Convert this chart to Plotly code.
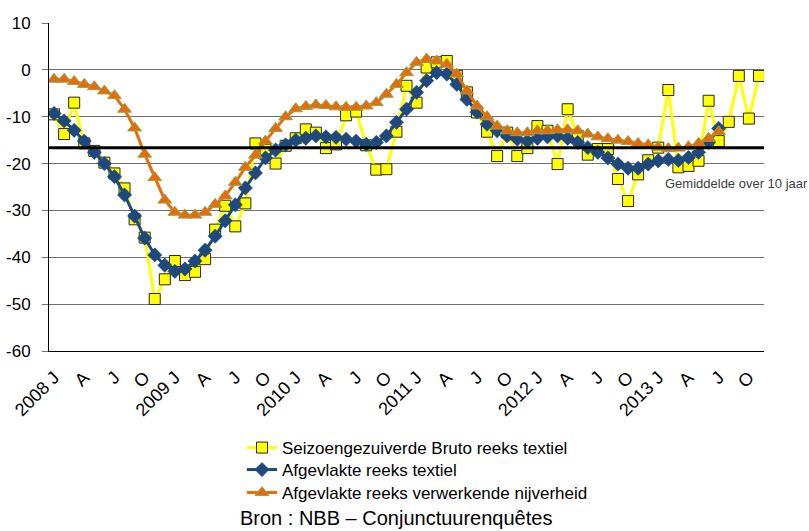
import plotly.graph_objects as go

months = ["J", "F", "M", "A", "M", "J", "J", "A", "S", "O", "N", "D"]
years = [2008, 2009, 2010, 2011, 2012, 2013]
categories = [f"{y} {m}" for y in years for m in months][:71]

tick_labels = ["2008 J", "A", "J", "O", "2009 J", "A", "J", "O", "2010 J", "A", "J", "O",
               "2011 J", "A", "J", "O", "2012 J", "A", "J", "O", "2013 J", "A", "J", "O"]

bruto_textiel = [
    -9.5, -13.7, -7.0, -15.7, -17.3, -19.8, -22.1, -25.3, -31.9, -35.8,
    -48.9, -44.7, -40.8, -43.8, -43.1, -40.4, -34.1, -29.0, -33.4, -28.5,
    -15.7, -17.1, -20.0, -16.2, -14.6, -12.7, -13.4, -16.7, -15.9, -9.7,
    -8.9, -16.1, -21.3, -21.2, -13.2, -3.4, -7.0, 0.5, 1.6, 1.9,
    -1.3, -4.8, -9.1, -13.2, -18.4, -13.4, -18.4, -16.7, -12.0, -13.0,
    -20.1, -8.4, -14.1, -18.1, -16.9, -16.9, -23.3, -28.0, -22.3, -19.3,
    -16.6, -4.3, -20.8, -20.5, -19.4, -6.6, -15.2, -11.1, -1.3, -10.4,
    -1.3,
]

afgevlakt_textiel = [
    -9.3, -10.9, -12.9, -15.2, -17.6, -20.0, -22.8, -26.7, -31.2, -35.9,
    -39.5, -41.7, -43.0, -42.5, -40.8, -38.5, -35.5, -32.2, -28.8, -25.2,
    -22.0, -18.8, -17.1, -16.0, -15.0, -14.6, -14.1, -14.3, -14.4, -14.8,
    -15.2, -15.9, -15.5, -14.1, -11.2, -8.4, -4.8, -2.3, -0.6, -0.9,
    -3.1, -6.3, -9.0, -11.6, -13.0, -14.1, -14.8, -15.2, -14.6, -14.3,
    -14.1, -14.6, -15.5, -16.6, -17.6, -18.8, -20.1, -21.0, -21.0, -20.1,
    -19.4, -19.1, -19.3, -18.7, -17.6, -15.5, -12.5,
]

afgevlakt_industrie = [
    -2.0, -2.0, -2.5, -3.1, -3.6, -4.5, -5.5, -8.4, -12.4, -18.0,
    -23.0, -27.8, -30.4, -31.0, -31.0, -30.4, -28.7, -26.9, -24.0, -20.8,
    -18.2, -15.2, -12.5, -10.0, -8.3, -7.8, -7.5, -7.6, -7.9, -8.0,
    -8.0, -7.7, -7.0, -5.2, -3.1, -0.6, 1.6, 2.3, 1.9, 1.2,
    -0.9, -4.5, -7.7, -10.0, -12.0, -13.0, -13.4, -13.4, -13.0, -13.0,
    -12.8, -12.8, -13.0, -13.7, -14.3, -14.7, -15.0, -15.3, -15.7, -16.0,
    -16.5, -16.8, -16.7, -16.4, -15.7, -14.6, -13.2,
]

gemiddelde_10_jaar = -16.6

y_ticks = [10, 0, -10, -20, -30, -40, -50, -60]
y_tick_text = ["10", "0", "-10", "-20", "-30", "-40", "-50", "-60"]

FONT = "Liberation Sans, Arial, sans-serif"

W, H = 809, 531
ml, mr, mt, mb = 49, 45, 23, 180
pw, ph = W - ml - mr, H - mt - mb


def px_to_paper_x(px):
    return (px - ml) / pw


def py_to_paper_y(py):
    return (H - mb - py) / ph


x_all = list(range(len(categories)))

fig = go.Figure()

fig.add_trace(go.Scatter(
    x=x_all[:len(bruto_textiel)], y=bruto_textiel, mode="lines+markers",
    name="Seizoengezuiverde Bruto reeks textiel",
    line=dict(color="#FFFF00", width=3),
    marker=dict(symbol="square", size=11, color="#FFFF00", line=dict(color="#262626", width=1)),
    legend="legend",
))
fig.add_trace(go.Scatter(
    x=x_all[:len(afgevlakt_textiel)], y=afgevlakt_textiel, mode="lines+markers",
    name="Afgevlakte reeks textiel",
    line=dict(color="#1F497D", width=3),
    marker=dict(symbol="diamond", size=11, color="#1F497D", line=dict(color="#1F497D", width=0.5)),
    legend="legend2",
))
fig.add_trace(go.Scatter(
    x=x_all[:len(afgevlakt_industrie)], y=afgevlakt_industrie, mode="lines+markers",
    name="Afgevlakte reeks verwerkende nijverheid",
    line=dict(color="#E46C0A", width=3),
    marker=dict(symbol="triangle-up", size=12, color="#E46C0A", line=dict(color="#9BA04A", width=1)),
    legend="legend3",
))

fig.add_shape(type="line", xref="paper", yref="y", x0=0, x1=1,
              y0=gemiddelde_10_jaar, y1=gemiddelde_10_jaar,
              line=dict(color="#000000", width=3), layer="above")

fig.add_annotation(x=60.5, y=-24.3, xref="x", yref="y", text="Gemiddelde over 10 jaar",
                   showarrow=False, xanchor="left", yanchor="middle",
                   font=dict(family=FONT, size=13, color="#404040"))

fig.add_annotation(x=px_to_paper_x(396), y=py_to_paper_y(518), xref="paper", yref="paper",
                   text="Bron : NBB – Conjunctuurenquêtes",
                   showarrow=False, xanchor="center", yanchor="middle",
                   font=dict(family=FONT, size=20, color="#000000"))

leg_common = dict(font=dict(family=FONT, size=17, color="#000000"), bgcolor="rgba(0,0,0,0)",
                  xanchor="left", yanchor="middle", orientation="v")

fig.update_layout(
    width=W, height=H,
    margin=dict(l=ml, r=mr, t=mt, b=mb, autoexpand=False),
    paper_bgcolor="white", plot_bgcolor="white",
    font=dict(family=FONT, size=17, color="#000000"),
    showlegend=True,
    hovermode=False,
    legend=dict(x=px_to_paper_x(242), y=py_to_paper_y(448), **leg_common),
    legend2=dict(x=px_to_paper_x(242), y=py_to_paper_y(470), **leg_common),
    legend3=dict(x=px_to_paper_x(242), y=py_to_paper_y(493), **leg_common),
    xaxis=dict(
        range=[-0.5, len(categories) - 0.5],
        tickmode="array", tickvals=list(range(0, len(categories), 3)), ticktext=tick_labels,
        tickangle=-45, ticks="", showgrid=False, zeroline=False,
        showline=True, linecolor="#000000", linewidth=1,
        tickfont=dict(family=FONT, size=18, color="#000000"),
        ticklabelstandoff=8, automargin=False,
    ),
    yaxis=dict(
        range=[-60, 10], tickmode="array", tickvals=y_ticks, ticktext=y_tick_text,
        showgrid=True, gridcolor="#707070", gridwidth=1,
        ticks="outside", ticklen=6, tickcolor="#707070",
        showline=True, linecolor="#000000", linewidth=1, zeroline=False,
        tickfont=dict(family=FONT, size=17, color="#000000"),
        ticklabelstandoff=8, automargin=False,
    ),
)

fig.write_html("out.html", config={"displayModeBar": False},
               post_script="document.body.style.margin='0';document.body.style.overflow='hidden';")
